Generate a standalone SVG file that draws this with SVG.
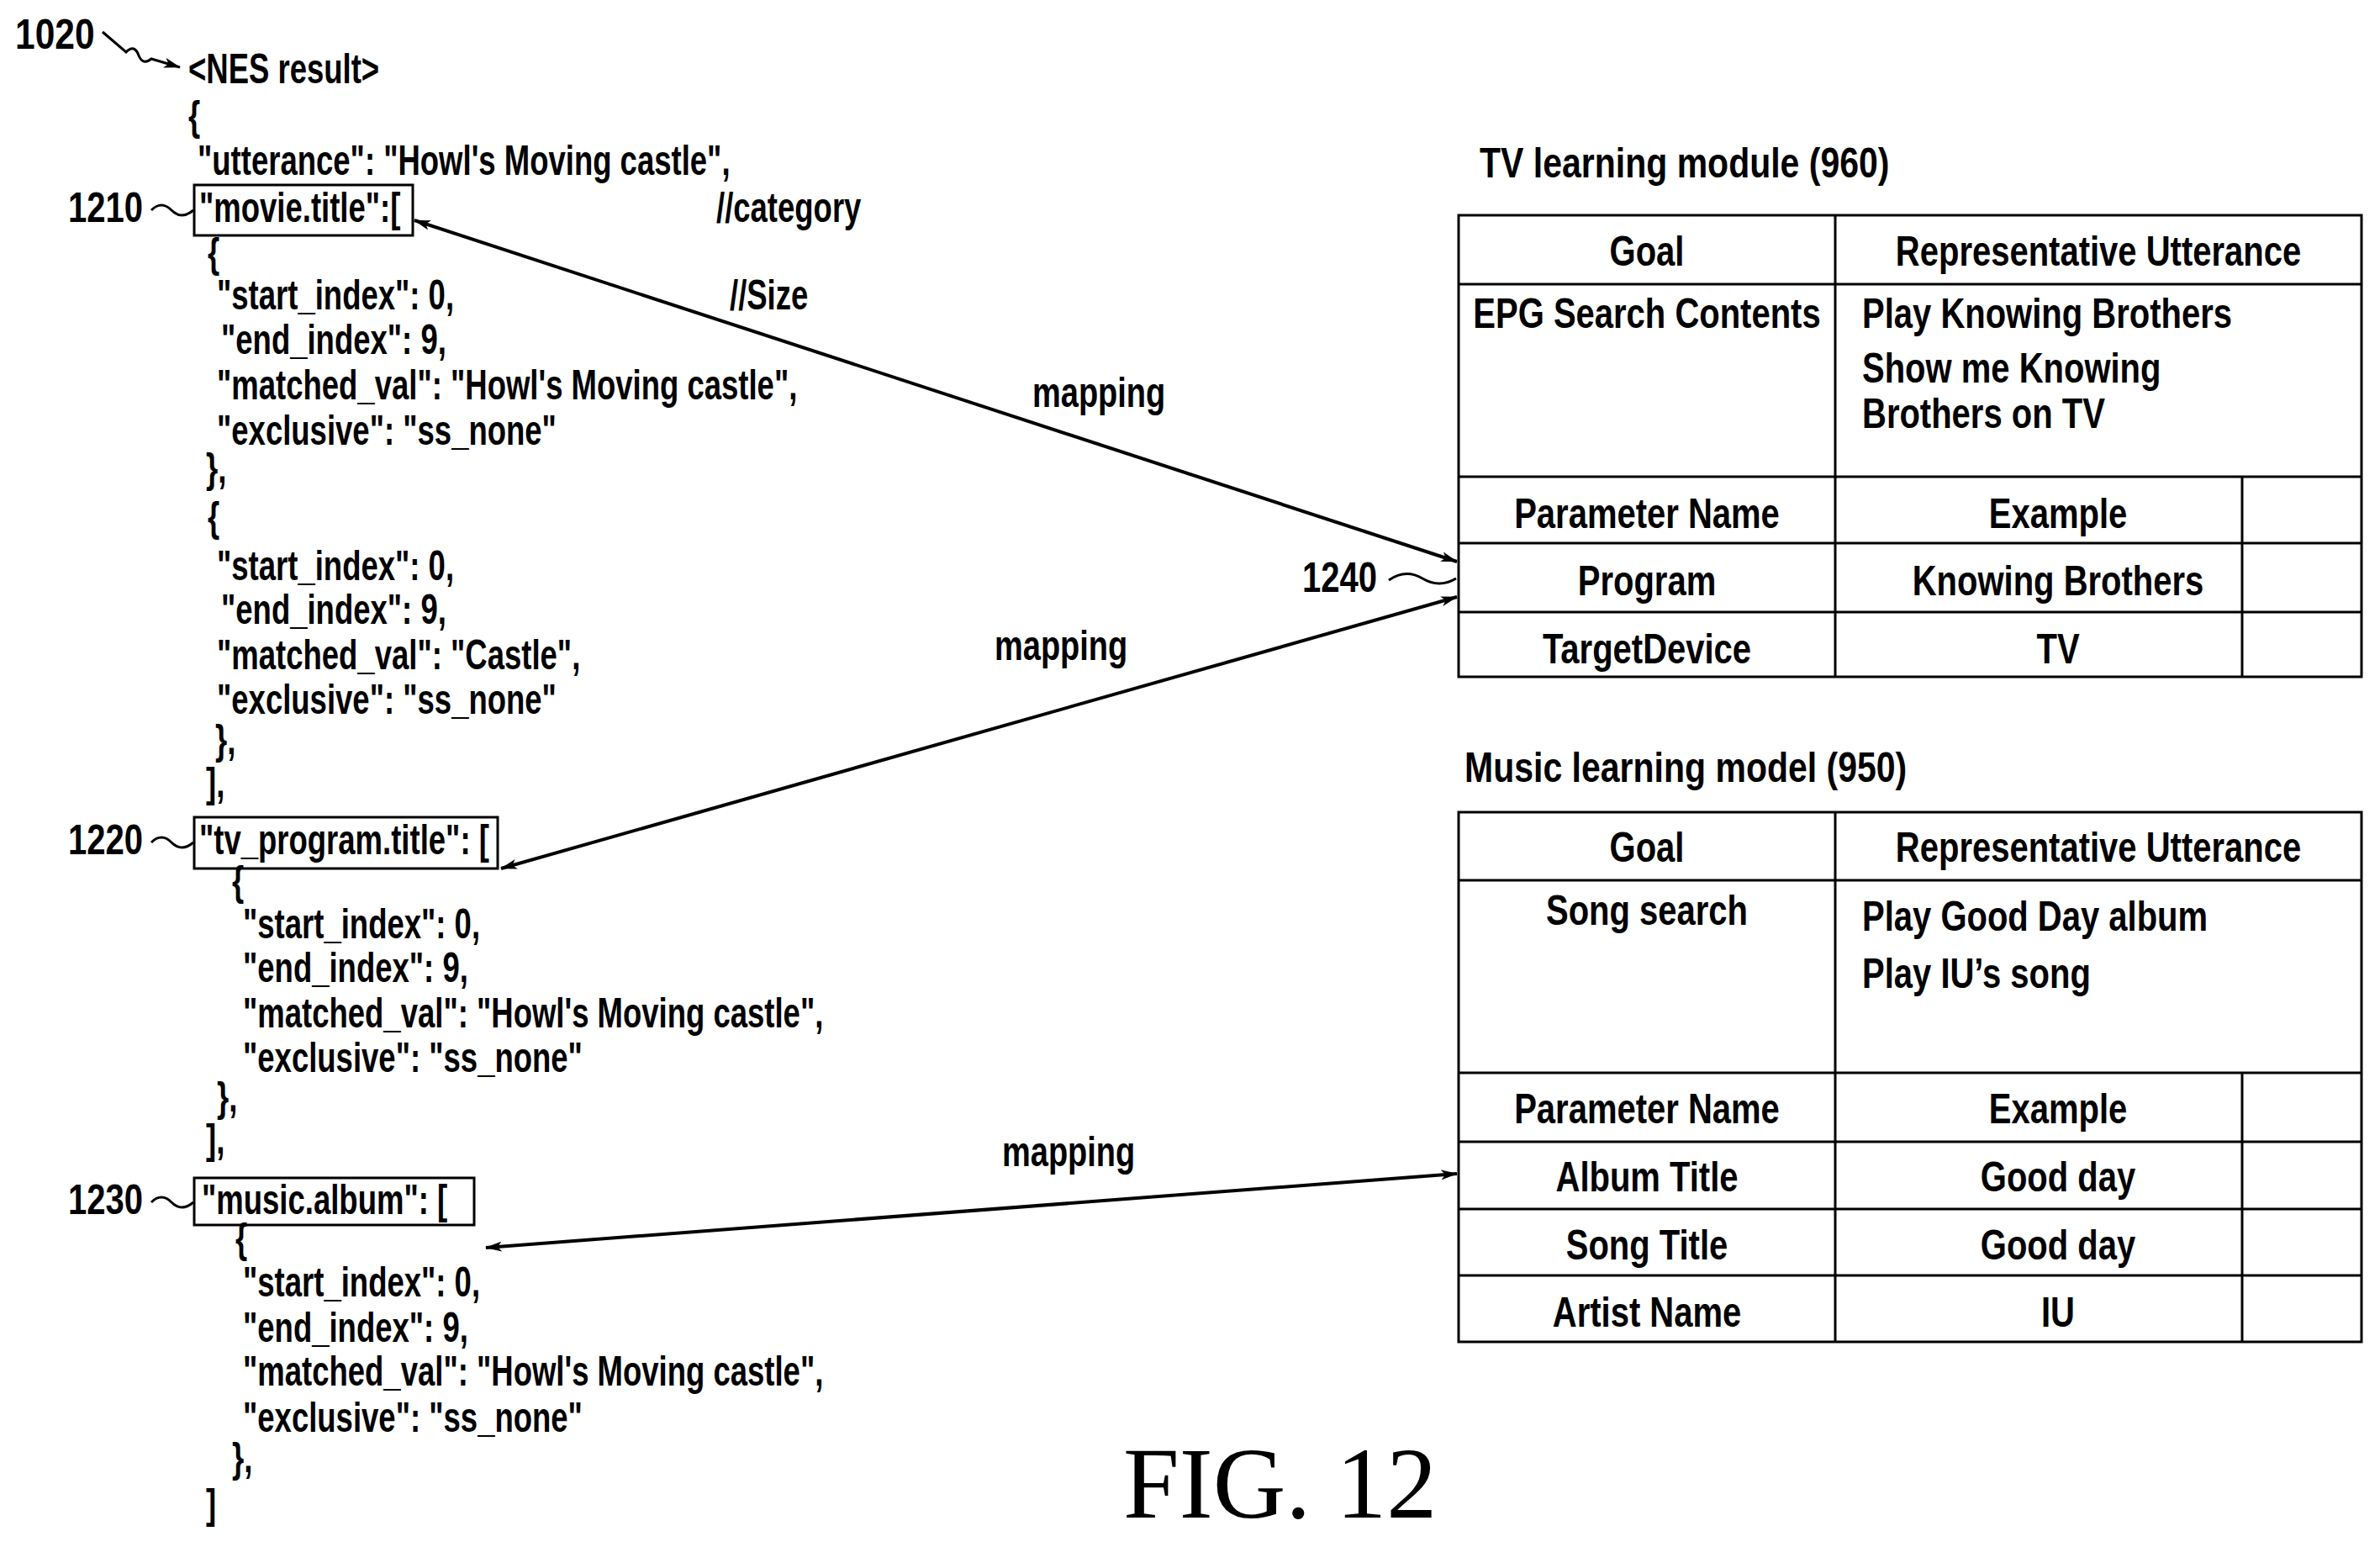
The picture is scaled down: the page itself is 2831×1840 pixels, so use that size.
<svg xmlns="http://www.w3.org/2000/svg" width="2831" height="1840" viewBox="0 0 2831 1840">
<style>
text{font-family:"Liberation Sans",Arial,sans-serif;font-size:50px;font-weight:bold;fill:#000}
.c{text-anchor:middle}
.f{font-family:"Liberation Serif","Times New Roman",serif;font-size:120px;font-weight:normal}
.ln{fill:none;stroke:#000;stroke-width:4}
.bx{fill:none;stroke:#000;stroke-width:3}
</style>
<defs>
<marker id="ah" viewBox="0 0 20 12" refX="19" refY="6" markerWidth="20" markerHeight="12" markerUnits="userSpaceOnUse" orient="auto-start-reverse"><path d="M0,0 L20,6 L0,12 L5,6 Z" fill="#000"/></marker>
</defs>
<rect width="2831" height="1840" fill="#fff"/>
<g id="json">
<text transform="translate(18,58) scale(0.85,1)">1020</text>
<path class="ln" d="M122,38 L150,62 Q160,52 165,66 Q170,78 180,70 L214,80" marker-end="url(#ah)" style="stroke-width:3"/>
<text transform="translate(224,99) scale(0.73,1)">&lt;NES result&gt;</text>
<text transform="translate(224,155) scale(0.73,1)">{</text>
<text transform="translate(235,208) scale(0.73,1)">"utterance": "Howl's Moving castle",</text>
<text transform="translate(852,264) scale(0.73,1)">//category</text>
<text transform="translate(247,318) scale(0.73,1)">{</text>
<text transform="translate(258,368) scale(0.73,1)">"start_index": 0,</text>
<text transform="translate(868,368) scale(0.73,1)">//Size</text>
<text transform="translate(263,421) scale(0.73,1)">"end_index": 9,</text>
<text transform="translate(258,475) scale(0.73,1)">"matched_val": "Howl's Moving castle",</text>
<text transform="translate(258,529) scale(0.73,1)">"exclusive": "ss_none"</text>
<text transform="translate(245,574) scale(0.73,1)">},</text>
<text transform="translate(247,632) scale(0.73,1)">{</text>
<text transform="translate(258,690) scale(0.73,1)">"start_index": 0,</text>
<text transform="translate(263,742) scale(0.73,1)">"end_index": 9,</text>
<text transform="translate(258,796) scale(0.73,1)">"matched_val": "Castle",</text>
<text transform="translate(258,849) scale(0.73,1)">"exclusive": "ss_none"</text>
<text transform="translate(256,897) scale(0.73,1)">},</text>
<text transform="translate(245,948) scale(0.73,1)">],</text>
<text transform="translate(276,1065) scale(0.73,1)">{</text>
<text transform="translate(289,1116) scale(0.73,1)">"start_index": 0,</text>
<text transform="translate(289,1168) scale(0.73,1)">"end_index": 9,</text>
<text transform="translate(289,1222) scale(0.73,1)">"matched_val": "Howl's Moving castle",</text>
<text transform="translate(289,1275) scale(0.73,1)">"exclusive": "ss_none"</text>
<text transform="translate(258,1322) scale(0.73,1)">},</text>
<text transform="translate(245,1372) scale(0.73,1)">],</text>
<text transform="translate(280,1490) scale(0.73,1)">{</text>
<text transform="translate(289,1542) scale(0.73,1)">"start_index": 0,</text>
<text transform="translate(289,1596) scale(0.73,1)">"end_index": 9,</text>
<text transform="translate(289,1648) scale(0.73,1)">"matched_val": "Howl's Moving castle",</text>
<text transform="translate(289,1703) scale(0.73,1)">"exclusive": "ss_none"</text>
<text transform="translate(276,1751) scale(0.73,1)">},</text>
<text transform="translate(245,1806) scale(0.73,1)">]</text>
</g>
<g id="n1210">
<text transform="translate(81,264) scale(0.8,1)">1210</text>
<path class="ln" d="M180,250 q12,-12 24,0 t26,0" style="stroke-width:3"/>
<rect class="bx" x="231" y="220" width="260" height="60"/>
<text transform="translate(237,264) scale(0.73,1)">"movie.title":[</text>
</g>
<g id="n1220">
<text transform="translate(81,1016) scale(0.8,1)">1220</text>
<path class="ln" d="M180,1002 q12,-12 24,0 t26,0" style="stroke-width:3"/>
<rect class="bx" x="231" y="972" width="361" height="61"/>
<text transform="translate(237,1016) scale(0.73,1)">"tv_program.title": [</text>
</g>
<g id="n1230">
<text transform="translate(81,1444) scale(0.8,1)">1230</text>
<path class="ln" d="M180,1430 q12,-12 24,0 t26,0" style="stroke-width:3"/>
<rect class="bx" x="231" y="1401" width="333" height="56"/>
<text transform="translate(240,1444) scale(0.73,1)">"music.album": [</text>
</g>
<g id="tv">
<text transform="translate(1760,211) scale(0.82,1)">TV learning module (960)</text>
<path class="bx" d="M1735,256 H2809 V805 H1735 Z M1735,338 H2809 M1735,567 H2809 M1735,646 H2809 M1735,728 H2809 M2183,256 V805 M2667,567 V805"/>
<text class="c" transform="translate(1959,316) scale(0.8,1)">Goal</text>
<text class="c" transform="translate(2496,316) scale(0.8,1)">Representative Utterance</text>
<text class="c" transform="translate(1959,390) scale(0.8,1)">EPG Search Contents</text>
<text transform="translate(2215,390) scale(0.8,1)">Play Knowing Brothers</text>
<text transform="translate(2215,455) scale(0.8,1)">Show me Knowing</text>
<text transform="translate(2215,509) scale(0.8,1)">Brothers on TV</text>
<text class="c" transform="translate(1959,628) scale(0.8,1)">Parameter Name</text>
<text class="c" transform="translate(2448,628) scale(0.8,1)">Example</text>
<text class="c" transform="translate(1959,708) scale(0.8,1)">Program</text>
<text class="c" transform="translate(2448,708) scale(0.8,1)">Knowing Brothers</text>
<text class="c" transform="translate(1959,789) scale(0.8,1)">TargetDevice</text>
<text class="c" transform="translate(2448,789) scale(0.8,1)">TV</text>
</g>
<g id="music">
<text transform="translate(1742,930) scale(0.82,1)">Music learning model (950)</text>
<path class="bx" d="M1735,966 H2809 V1596 H1735 Z M1735,1047 H2809 M1735,1276 H2809 M1735,1358 H2809 M1735,1438 H2809 M1735,1517 H2809 M2183,966 V1596 M2667,1276 V1596"/>
<text class="c" transform="translate(1959,1025) scale(0.8,1)">Goal</text>
<text class="c" transform="translate(2496,1025) scale(0.8,1)">Representative Utterance</text>
<text class="c" transform="translate(1959,1100) scale(0.8,1)">Song search</text>
<text transform="translate(2215,1107) scale(0.8,1)">Play Good Day album</text>
<text transform="translate(2215,1175) scale(0.8,1)">Play IU’s song</text>
<text class="c" transform="translate(1959,1336) scale(0.8,1)">Parameter Name</text>
<text class="c" transform="translate(2448,1336) scale(0.8,1)">Example</text>
<text class="c" transform="translate(1959,1417) scale(0.8,1)">Album Title</text>
<text class="c" transform="translate(2448,1417) scale(0.8,1)">Good day</text>
<text class="c" transform="translate(1959,1498) scale(0.8,1)">Song Title</text>
<text class="c" transform="translate(2448,1498) scale(0.8,1)">Good day</text>
<text class="c" transform="translate(1959,1578) scale(0.8,1)">Artist Name</text>
<text class="c" transform="translate(2448,1578) scale(0.8,1)">IU</text>
</g>
<g id="connectors">
<line class="ln" x1="493" y1="262" x2="1733" y2="668" marker-start="url(#ah)" marker-end="url(#ah)"/>
<line class="ln" x1="596" y1="1033" x2="1733" y2="710" marker-start="url(#ah)" marker-end="url(#ah)"/>
<line class="ln" x1="578" y1="1484" x2="1733" y2="1396" marker-start="url(#ah)" marker-end="url(#ah)"/>
<text transform="translate(1228,484) scale(0.76,1)">mapping</text>
<text transform="translate(1183,785) scale(0.76,1)">mapping</text>
<text transform="translate(1192,1387) scale(0.76,1)">mapping</text>
<text transform="translate(1549,704) scale(0.8,1)">1240</text>
<path class="ln" d="M1652,690 q20,-14 40,-2 t40,0" style="stroke-width:3"/>
</g>
<text class="f" x="1336" y="1805">FIG. 12</text>
</svg>
